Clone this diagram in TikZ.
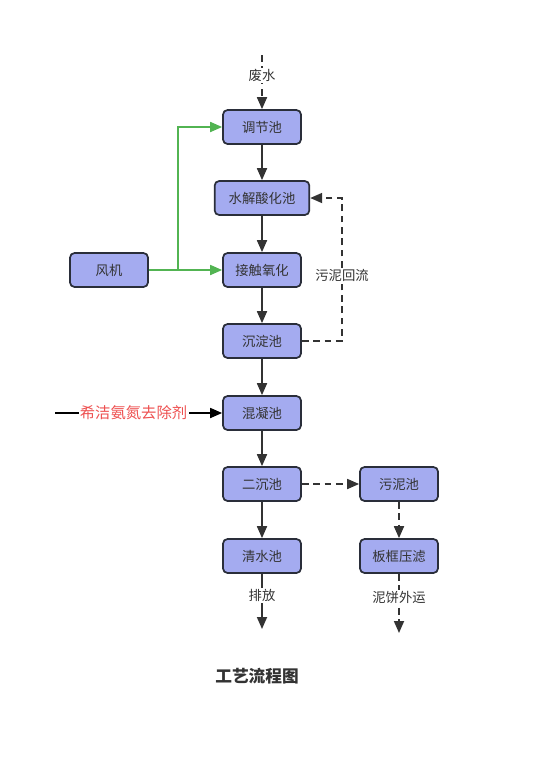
\documentclass[tikz,border=0pt]{standalone}
\usepackage{fontspec}
\setmainfont{Noto Sans CJK SC}
\usepackage{xcolor}
\usepackage{tikz}
\usetikzlibrary{positioning, arrows.meta}
\definecolor{gyFill}{RGB}{164, 171, 240}
\definecolor{gyDark}{RGB}{42, 46, 58}
\definecolor{gyLine}{RGB}{51, 51, 51}
\definecolor{gyGreen}{RGB}{82, 180, 82}
\definecolor{gyRed}{RGB}{238, 80, 80}
\tikzset{
    base/.style={
        font=\fontsize{10}{12}\selectfont,
        align=center,
        text=gyLine
    },
    pool/.style={
        base,
        rectangle,
        rounded corners=1.2mm,
        draw=gyDark,
        line width=1.3pt,
        fill=gyFill,
        minimum width=58.5pt,
        minimum height=25.5pt,
        inner sep=1mm
    },
    flow/.style={
        -{Triangle[length=9pt, width=7.5pt]},
        line width=1.3pt,
        color=gyLine
    },
    backflow/.style={
        flow,
        dash pattern=on 5pt off 3.5pt
    },
    airflow/.style={
        flow,
        color=gyGreen,
        rounded corners=0pt
    },
    tag/.style={
        base,
        fill=white,
        inner sep=1pt
    }
}

\begin{document}
\begin{tikzpicture}[x=0.75pt, y=-0.75pt]
  \useasboundingbox[fill=white] (0,0) rectangle (535,779);

  % main line
  \node[pool] (tiaojie) at (262,127) {调节池};
  \node[pool, minimum width=71pt] (shuijie) at (262,198) {水解酸化池};
  \node[pool] (jiechu) at (262,270) {接触氧化};
  \node[pool] (chendian) at (262,341) {沉淀池};
  \node[pool] (hunning) at (262,413) {混凝池};
  \node[pool] (erchen) at (262,484) {二沉池};
  \node[pool] (qingshui) at (262,556) {清水池};

  % sludge line
  \node[pool] (wuni) at (399,484) {污泥池};
  \node[pool] (yalv) at (399,556) {板框压滤};

  % blower
  \node[pool] (fengji) at (109,270) {风机};

  \coordinate (inlet) at (262,55);
  \coordinate (outlet) at (262,629);
  \coordinate (cake) at (399,633);
  \coordinate (dose) at (55,413);

  \draw[backflow] (inlet) -- node[tag, pos=0.37] {废水} (tiaojie);
  \draw[flow] (tiaojie) -- (shuijie);
  \draw[flow] (shuijie) -- (jiechu);
  \draw[flow] (jiechu) -- (chendian);
  \draw[flow] (chendian) -- (hunning);
  \draw[flow] (hunning) -- (erchen);
  \draw[flow] (erchen) -- (qingshui);
  \draw[flow] (qingshui) -- node[tag, pos=0.4] {排放} (outlet);

  \draw[flow, color=black] (dose) -- node[tag, text=gyRed, pos=0.47, font=\fontsize{11.5}{13}\selectfont] {希洁氨氮去除剂} (hunning);

  \draw[airflow] (fengji) -- (jiechu);
  \draw[airflow] (178,270) |- (tiaojie);

  \draw[backflow] (chendian.east) -- (342,341) |- node[tag, pos=0.23] {污泥回流} (shuijie.east);
  \draw[backflow] (erchen) -- (wuni);
  \draw[backflow] (wuni) -- (yalv);
  \draw[backflow] (yalv) -- node[tag, pos=0.4] {泥饼外运} (cake);

  \node[base, font=\fontsize{12.5}{14}\selectfont\bfseries] (title) at (257,676) {工艺流程图};
\end{tikzpicture}
\end{document}
